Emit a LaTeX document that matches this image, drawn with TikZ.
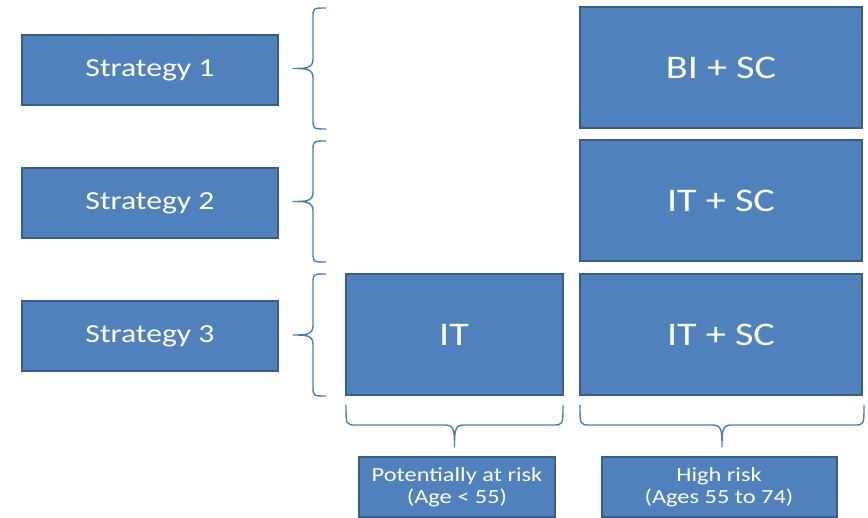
\documentclass[tikz,border=0pt]{standalone}
\usepackage{fontspec}
\setmainfont{Carlito}[FakeStretch=1.22]
\definecolor{boxfill}{HTML}{4F81BD}
\definecolor{boxline}{HTML}{385D8A}
\definecolor{brcol}{HTML}{4A7EBB}
\begin{document}
\begin{tikzpicture}[x=1pt,y=-1pt,
  box/.style={draw=boxline, line width=2pt, fill=boxfill, text=white, inner sep=0pt, align=center},
  stratbox/.style={box, minimum width=256pt, minimum height=70pt, font=\fontsize{26}{30}\selectfont},
  bigbox/.style={box, minimum height=121pt, font=\fontsize{33}{38}\selectfont},
  riskbox/.style={box, minimum height=60pt, font=\fontsize{20}{22}\selectfont},
  brc/.style={draw=brcol, line width=1.4pt, line join=round}]
\useasboundingbox (0,0) rectangle (868,518);
% strategy boxes
\node[stratbox] (s1) at (150,70) {Strategy 1};
\node[stratbox] (s2) at (150,203) {Strategy 2};
\node[stratbox] (s3) at (150,336) {Strategy 3};
% treatment boxes
\node[bigbox, minimum width=282pt] (bi) at (721,68) {BI + SC};
\node[bigbox, minimum width=282pt] (it2) at (721,201) {IT + SC};
\node[bigbox, minimum width=282pt] (it3) at (721,335) {IT + SC};
\node[bigbox, minimum width=217pt] (it) at (454,335) {IT};
% risk boxes
\node[riskbox, minimum width=196pt] (pr) at (457,487) {Potentially at risk\\(Age < 55)};
\node[riskbox, minimum width=235pt] (hr) at (719,487) {High risk\\(Ages 55 to 74)};
% left braces
\foreach \t/\b in {8/129, 141/262, 274/396}{
  \pgfmathsetmacro{\m}{(\t+\b)/2}
  \draw[brc] (326,\t) .. controls (313,\t) .. (313,\t+10) -- (313,\m-9)
    .. controls (313,\m) and (305,\m) .. (293,\m)
    .. controls (305,\m) and (313,\m) .. (313,\m+9) -- (313,\b-10)
    .. controls (313,\b) .. (326,\b);
}
% bottom braces
\foreach \l/\r in {346/563, 580/864}{
  \pgfmathsetmacro{\m}{(\l+\r)/2}
  \draw[brc] (\l,405) .. controls (\l,425) .. (\l+10,425) -- (\m-9,425)
    .. controls (\m,425) and (\m,432) .. (\m,447)
    .. controls (\m,432) and (\m,425) .. (\m+9,425) -- (\r-10,425)
    .. controls (\r,425) .. (\r,405);
}
\end{tikzpicture}
\end{document}
